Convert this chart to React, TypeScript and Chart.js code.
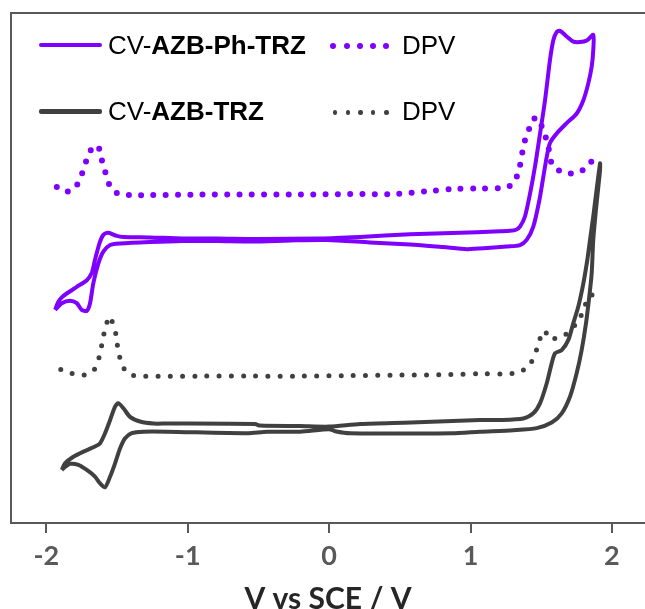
import React, { useEffect, useRef } from 'react';
import { Chart, registerables } from 'chart.js';

Chart.register(...registerables);

// x tick labels (V vs SCE)
const xTicks = [-2, -1, 0, 1, 2];

// CV of AZB-Ph-TRZ (potential / V, current / a.u.)
const cvPhTrzV = [
  -1.938, -1.915, -1.889, -1.856, -1.785, -1.714, -1.679, -1.656, -1.625, -1.597, -1.562, -1.502, -1.455,
  -1.267, -1.033, -0.793, -0.51, -0.064, 0.219, 0.572, 1.046, 1.209, 1.279, 1.322, 1.35, 1.385, 1.421,
  1.456, 1.492, 1.527, 1.562, 1.586, 1.61, 1.633, 1.68, 1.727, 1.774, 1.822, 1.868,
  1.868, 1.857, 1.833, 1.798, 1.751, 1.68, 1.61, 1.562, 1.539, 1.515, 1.487, 1.444, 1.397, 1.35, 1.256,
  1.117, 0.975, 0.806, 0.572, 0.289, -0.015, -0.277, -0.538, -0.793, -1.033, -1.267, -1.479, -1.549,
  -1.597, -1.632, -1.668, -1.691, -1.714, -1.75, -1.785, -1.832, -1.891, -1.938,
];
const cvPhTrzI = [
  41.8, 43.4, 44.3, 45.0, 46.3, 47.6, 49.0, 51.6, 54.8, 56.5, 56.9, 56.3, 56.1,
  56.0, 55.8, 55.8, 55.7, 55.8, 56.1, 56.6, 57.0, 57.2, 57.3, 57.5, 58.1, 60.1, 64.6,
  69.9, 76.4, 82.9, 90.8, 94.7, 96.3, 96.5, 95.4, 94.4, 94.3, 94.6, 95.7,
  92.7, 89.5, 86.2, 82.9, 80.3, 78.4, 76.4, 74.5, 71.8, 67.9, 63.3, 58.1, 55.5, 54.5, 54.2,
  53.9, 53.7, 54.1, 54.6, 55.0, 55.5, 55.4, 55.2, 55.3, 55.3, 55.1, 54.8, 54.5,
  53.2, 50.9, 47.0, 43.1, 41.6, 41.8, 43.1, 43.6, 43.1, 41.8,
];

// DPV of AZB-Ph-TRZ
const dpvPhTrzV = [
  -1.926, -1.868, -1.813, -1.781, -1.757, -1.738, -1.714, -1.686, -1.644, -1.621, -1.606, -1.585, -1.562,
  -1.537, -1.479, -1.394, -1.267, -0.913, -0.559, -0.206, 0.148, 0.466, 0.714, 0.869, 1.067, 1.23, 1.291,
  1.327, 1.345, 1.362, 1.373, 1.393, 1.416, 1.444, 1.484, 1.504, 1.532, 1.55, 1.574, 1.621, 1.685, 1.751,
  1.81, 1.845, 1.88,
];
const dpvPhTrzI = [
  65.9, 65.0, 65.3, 66.4, 67.7, 69.4, 71.3, 73.1, 74.1, 73.0, 71.0, 69.0, 66.9,
  65.3, 64.5, 64.3, 64.3, 64.4, 64.4, 64.4, 64.5, 64.5, 65.1, 65.5, 65.6, 65.7, 66.3,
  67.9, 69.5, 71.8, 73.8, 75.7, 77.4, 79.2, 79.3, 77.7, 75.6, 73.8, 70.5, 69.2, 68.6, 68.6,
  69.5, 70.5, 71.8,
];

// CV of AZB-TRZ
const cvTrzV = [
  -1.891, -1.868, -1.809, -1.738, -1.656, -1.621, -1.585, -1.549, -1.514, -1.491, -1.455, -1.408, -1.337,
  -1.243, -1.149, -0.524, -0.489, -0.206, 0, 0.219, 0.579, 1.067, 1.209, 1.373, 1.444, 1.492, 1.539, 1.574,
  1.598, 1.645, 1.692, 1.727, 1.762, 1.798, 1.826, 1.845, 1.868, 1.887, 1.916,
  1.916, 1.904, 1.887, 1.868, 1.857, 1.84, 1.817, 1.786, 1.751, 1.704, 1.645, 1.574, 1.468, 1.303, 1.067,
  0.869, 0.148, 0.042, 0, -0.206, -0.439, -0.581, -1.149, -1.314, -1.396, -1.443, -1.479, -1.514, -1.549,
  -1.585, -1.621, -1.656, -1.714, -1.774, -1.832, -1.868, -1.891,
];
const cvTrzI = [
  10.4, 11.7, 13.0, 14.0, 15.0, 15.6, 17.6, 20.2, 22.8, 23.5, 22.5, 20.8, 19.9,
  19.5, 19.5, 19.4, 19.1, 19.0, 18.9, 19.4, 19.7, 20.2, 20.2, 20.5, 21.5, 23.5, 27.4, 31.3,
  33.3, 33.9, 35.9, 39.2, 42.4, 47.0, 51.6, 55.5, 60.1, 64.3, 70.5,
  69.2, 65.9, 61.4, 55.5, 49.0, 44.4, 39.2, 33.9, 29.4, 24.8, 21.5, 19.7, 18.6, 18.2, 17.9,
  17.6, 17.6, 18.0, 18.4, 17.9, 17.9, 17.6, 17.9, 17.9, 17.6, 16.6, 14.6, 11.7, 9.1,
  7.0, 7.8, 9.1, 10.4, 11.4, 11.6, 11.0, 10.4,
];

// DPV of AZB-TRZ
const dpvTrzV = [
  -1.898, -1.832, -1.75, -1.679, -1.644, -1.625, -1.608, -1.592, -1.578, -1.549, -1.526, -1.507, -1.498,
  -1.486, -1.472, -1.443, -1.396, -1.316, -0.913, -0.559, -0.206, 0.148, 0.501, 0.855, 1.067, 1.23, 1.315,
  1.373, 1.421, 1.444, 1.479, 1.496, 1.527, 1.55, 1.583, 1.621, 1.668, 1.685, 1.739, 1.774, 1.81, 1.817,
  1.845, 1.88,
];
const dpvTrzI = [
  30.1, 29.4, 29.0, 29.5, 31.0, 32.7, 34.9, 37.2, 38.8, 40.5, 38.6, 36.9, 34.9,
  33.3, 31.4, 30.0, 29.0, 28.8, 28.8, 28.8, 28.8, 28.9, 29.0, 29.1, 29.3, 29.2, 29.4,
  30.0, 31.0, 32.6, 34.7, 36.5, 37.7, 36.2, 36.2, 36.2, 36.9, 37.2, 38.8, 40.3, 42.1, 43.7,
  44.5, 45.0,
];

const PURPLE = '#7f00ff';
const GRAY = '#404040';
const AXIS = '#595959';

const zip = (xs: number[], ys: number[]) => xs.map((x, i) => ({ x, y: ys[i] }));

const framePlugin = {
  id: 'frame',
  afterDraw(chart: any) {
    const { ctx, chartArea } = chart;
    const { left, top, right, bottom } = chartArea;
    ctx.save();
    ctx.strokeStyle = AXIS;
    ctx.lineWidth = 2;
    ctx.beginPath();
    ctx.moveTo(left, bottom);
    ctx.lineTo(left, top);
    ctx.lineTo(right + 4, top);
    ctx.stroke();
    ctx.restore();
  },
};

const legendText: React.CSSProperties = {
  position: 'absolute',
  fontFamily: '"Liberation Sans", Arial, sans-serif',
  fontSize: 26,
  lineHeight: 1,
  color: '#000',
  whiteSpace: 'nowrap',
  transform: 'translateY(-50%)',
};

function Dots({ xs, y, d, color }: { xs: number[]; y: number; d: number; color: string }) {
  return (
    <>
      {xs.map((x, i) => (
        <div
          key={i}
          style={{
            position: 'absolute',
            left: x - d / 2,
            top: y - d / 2,
            width: d,
            height: d,
            borderRadius: '50%',
            background: color,
          }}
        />
      ))}
    </>
  );
}

export default function App() {
  const ref = useRef<HTMLCanvasElement | null>(null);

  useEffect(() => {
    if (!ref.current) return;
    const chart = new Chart(ref.current, {
      type: 'scatter',
      data: {
        datasets: [
          {
            label: 'CV-AZB-Ph-TRZ',
            data: zip(cvPhTrzV, cvPhTrzI),
            showLine: true,
            borderColor: PURPLE,
            backgroundColor: PURPLE,
            borderWidth: 4,
            pointRadius: 0,
            tension: 0.25,
            borderJoinStyle: 'round',
          },
          {
            label: 'DPV',
            data: zip(dpvPhTrzV, dpvPhTrzI),
            showLine: true,
            borderColor: PURPLE,
            backgroundColor: PURPLE,
            borderWidth: 6,
            borderDash: [0, 12.3],
            borderCapStyle: 'round',
            pointRadius: 0,
            tension: 0.3,
          },
          {
            label: 'CV-AZB-TRZ',
            data: zip(cvTrzV, cvTrzI),
            showLine: true,
            borderColor: GRAY,
            backgroundColor: GRAY,
            borderWidth: 4,
            pointRadius: 0,
            tension: 0.25,
            borderJoinStyle: 'round',
          },
          {
            label: 'DPV ',
            data: zip(dpvTrzV, dpvTrzI),
            showLine: true,
            borderColor: GRAY,
            backgroundColor: GRAY,
            borderWidth: 5,
            borderDash: [0, 12.2],
            borderCapStyle: 'round',
            pointRadius: 0,
            tension: 0.3,
          },
        ],
      } as any,
      options: {
        animation: false,
        responsive: false,
        devicePixelRatio: 1,
        layout: { padding: { left: 11, top: 13, right: 0, bottom: 0 } },
        plugins: { legend: { display: false }, tooltip: { enabled: false } },
        scales: {
          x: {
            type: 'linear',
            min: -2.25,
            max: 2.234,
            afterBuildTicks: (s: any) => {
              s.ticks = xTicks.map((v) => ({ value: v }));
            },
            afterFit: (s: any) => {
              s.height = 86;
            },
            grid: {
              drawOnChartArea: false,
              drawTicks: true,
              tickLength: 10,
              color: AXIS,
              lineWidth: 2,
              tickColor: AXIS,
              tickWidth: 2,
            },
            border: { display: true, color: AXIS, width: 2 },
            ticks: {
              color: AXIS,
              font: { family: 'Lato', size: 27, weight: 'bold' },
              padding: 7,
              maxRotation: 0,
              autoSkip: false,
              callback: (v: any) => String(v),
            },
            title: {
              display: true,
              text: 'V vs SCE / V',
              color: '#262626',
              font: { family: 'Lato', size: 30, weight: 'bold', lineHeight: 0.633 },
              padding: 0,
            },
          },
          y: { type: 'linear', min: 0, max: 100, display: false },
        },
      } as any,
      plugins: [framePlugin],
    });
    return () => chart.destroy();
  }, []);

  return (
    <div style={{ position: 'absolute', left: 0, top: 0, width: 645, height: 609, background: '#fff', overflow: 'hidden' }}>
      <canvas ref={ref} width={645} height={609} style={{ display: 'block', width: 645, height: 609 }} />
      {/* Legend */}
      <div style={{ position: 'absolute', left: 39, top: 42.5, width: 63, height: 4, background: PURPLE, borderRadius: 2 }} />
      <div style={{ ...legendText, left: 108, top: 44.7 }}>
        CV-<b>AZB-Ph-TRZ</b>
      </div>
      <Dots xs={[333, 346.5, 360, 373, 386]} y={46} d={6} color={PURPLE} />
      <div style={{ ...legendText, left: 402, top: 44.7 }}>DPV</div>

      <div style={{ position: 'absolute', left: 39, top: 109, width: 63, height: 4.5, background: GRAY, borderRadius: 2 }} />
      <div style={{ ...legendText, left: 108, top: 111.3 }}>
        CV-<b>AZB-TRZ</b>
      </div>
      <Dots xs={[335, 348, 360.5, 373, 386.5]} y={112.7} d={4.5} color={GRAY} />
      <div style={{ ...legendText, left: 402, top: 111.3 }}>DPV</div>
    </div>
  );
}
